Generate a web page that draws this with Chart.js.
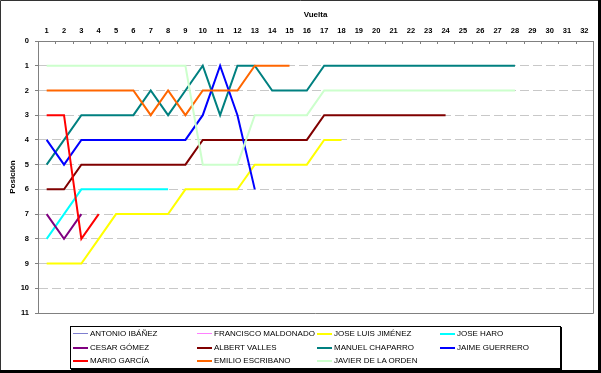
<!DOCTYPE html>
<html>
<head>
<meta charset="utf-8">
<script src="https://cdn.jsdelivr.net/npm/chart.js"></script>
<style>
  body { margin: 0; background: #fff; }
  #wrap { position: relative; width: 601px; height: 373px; }
  #legend {
    position: absolute; left: 70px; top: 326px; width: 489px; height: 41px;
    border: 1px solid #000; box-shadow: 1px 1px 0 #000; background: #fff;
    font-family: Arial, 'Liberation Sans', sans-serif; font-size: 8px; color: #000;
  }
  .item { position: absolute; height: 10px; line-height: 10px; white-space: nowrap; }
  .item span.sw { display: inline-block; width: 15px; vertical-align: middle; margin-right: 2px; }
</style>
</head>
<body>
<div id="wrap">
  <canvas id="chart" width="601" height="373"></canvas>
  <div id="legend"></div>
</div>
<script>
// categories (laps)
const laps = ['1','2','3','4','5','6','7','8','9','10','11','12','13','14','15','16',
              '17','18','19','20','21','22','23','24','25','26','27','28','29','30','31','32'];

// positions per lap
const antonio   = [];
const francisco = [];
const joseLuis  = [9,9,9,8,7,7,7,7,6,6,6,6,5,5,5,5,4,4];
const joseHaro  = [8,7,6,6,6,6,6,6];
const cesar     = [7,8,7];
const albert    = [6,6,5,5,5,5,5,5,5,4,4,4,4,4,4,4,3,3,3,3,3,3,3,3];
const manuel    = [5,4,3,3,3,3,2,3,2,1,3,1,1,2,2,2,1,1,1,1,1,1,1,1,1,1,1,1];
const jaime     = [4,5,4,4,4,4,4,4,4,3,1,3,6];
const mario     = [3,3,8,7];
const emilio    = [2,2,2,2,2,2,3,2,3,2,2,2,1,1,1];
const javier    = [1,1,1,1,1,1,1,1,1,5,5,5,3,3,3,3,2,2,2,2,2,2,2,2,2,2,2,2];

const FONT = "Arial, 'Liberation Sans', sans-serif";

function serie(label, data, color, width) {
  return { label: label, data: data, borderColor: color, backgroundColor: color,
           borderWidth: width || 2, pointRadius: 0, tension: 0, fill: false };
}

const datasets = [
  serie('ANTONIO IBÁÑEZ', antonio, '#7f7fcf', 1),
  serie('FRANCISCO MALDONADO', francisco, '#ff80ff', 1),
  serie('JOSE LUIS JIMÉNEZ', joseLuis, '#ffff00'),
  serie('JOSE HARO', joseHaro, '#00ffff'),
  serie('CESAR GÓMEZ', cesar, '#800080'),
  serie('ALBERT VALLES', albert, '#800000'),
  serie('MANUEL CHAPARRO', manuel, '#008080'),
  serie('JAIME GUERRERO', jaime, '#0000ff'),
  serie('MARIO GARCÍA', mario, '#ff0000'),
  serie('EMILIO ESCRIBANO', emilio, '#ff6600'),
  serie('JAVIER DE LA ORDEN', javier, '#ccffcc')
];
// later series on top, like the spreadsheet
datasets.forEach((d, i) => { d.order = datasets.length - i; });

// frame, plot border and inside ticks of the top axis
const framePlugin = {
  id: 'frame',
  beforeDraw(chart) {
    const c = chart.ctx;
    c.save();
    c.fillStyle = '#fff';
    c.fillRect(0, 0, chart.width, chart.height);
    c.restore();
  },
  beforeDatasetsDraw(chart) {
    const c = chart.ctx, a = chart.chartArea;
    c.save();
    c.strokeStyle = '#808080';
    c.lineWidth = 1;
    c.beginPath();
    c.moveTo(a.left, Math.round(a.bottom) + 0.5);
    c.lineTo(Math.round(a.right) + 0.5, Math.round(a.bottom) + 0.5);
    c.lineTo(Math.round(a.right) + 0.5, a.top);
    const n = laps.length, step = (a.right - a.left) / n;
    for (let i = 0; i <= n; i++) {
      const x = Math.round(a.left + i * step) + 0.5;
      c.moveTo(x, a.top);
      c.lineTo(x, a.top + 3);
    }
    c.stroke();
    c.restore();
  },
  afterDraw(chart) {
    const c = chart.ctx, w = chart.width, h = chart.height;
    c.save();
    c.strokeStyle = '#333';
    c.lineWidth = 1;
    c.beginPath();
    c.moveTo(0.5, h); c.lineTo(0.5, 0.5); c.lineTo(w, 0.5);
    c.stroke();
    c.fillStyle = '#000';
    c.fillRect(w - 3, 0, 3, h);
    c.fillRect(0, h - 3, w, 3);
    c.restore();
  }
};

const config = {
  type: 'line',
  data: { labels: laps, datasets: datasets },
  options: {
    responsive: false,
    animation: false,
    layout: { padding: { left: 4, top: 5, right: 8, bottom: 60 } },
    plugins: { legend: { display: false }, tooltip: { enabled: false } },
    scales: {
      x: {
        position: 'top',
        offset: true,
        grid: { display: false, drawTicks: false },
        border: { display: true, color: '#808080', width: 1 },
        ticks: { color: '#000', font: { family: FONT, size: 7.5, weight: 'bold' }, padding: 6,
                 maxRotation: 0, autoSkip: false },
        title: { display: true, text: 'Vuelta', color: '#000',
                 font: { family: FONT, size: 8, weight: 'bold' }, padding: { top: 5, bottom: 2 } },
        afterFit(s) { s.height = 36; }
      },
      y: {
        reverse: true,
        min: 0,
        max: 11,
        grid: {
          color: (ctx) => (ctx.tick && (ctx.tick.value === 0 || ctx.tick.value === 11)) ? 'rgba(0,0,0,0)' : '#c8c8c8',
          tickColor: '#808080', tickLength: 3, lineWidth: 1
        },
        border: { display: true, color: '#808080', width: 1, dash: [9, 4] },
        ticks: { stepSize: 1, color: '#000', padding: 6,
                 font: { family: FONT, size: 7.5, weight: 'bold' } },
        title: { display: true, text: 'Posición', color: '#000',
                 font: { family: FONT, size: 8, weight: 'bold' } },
        afterFit(s) { s.width = 34; }
      }
    }
  },
  plugins: [framePlugin]
};

const canvas = document.getElementById('chart');
const chart = new Chart(canvas, config);

// legend in four columns, filled row by row
const legend = document.getElementById('legend');
const colX = [2, 126, 246, 369];
const rowY = [2, 16, 29];
datasets.forEach((d, i) => {
  const el = document.createElement('div');
  el.className = 'item';
  el.style.left = colX[i % 4] + 'px';
  el.style.top = rowY[Math.floor(i / 4)] + 'px';
  const sw = document.createElement('span');
  sw.className = 'sw';
  sw.style.borderTop = d.borderWidth + 'px solid ' + d.borderColor;
  el.appendChild(sw);
  el.appendChild(document.createTextNode(d.label));
  legend.appendChild(el);
});
</script>
</body>
</html>
